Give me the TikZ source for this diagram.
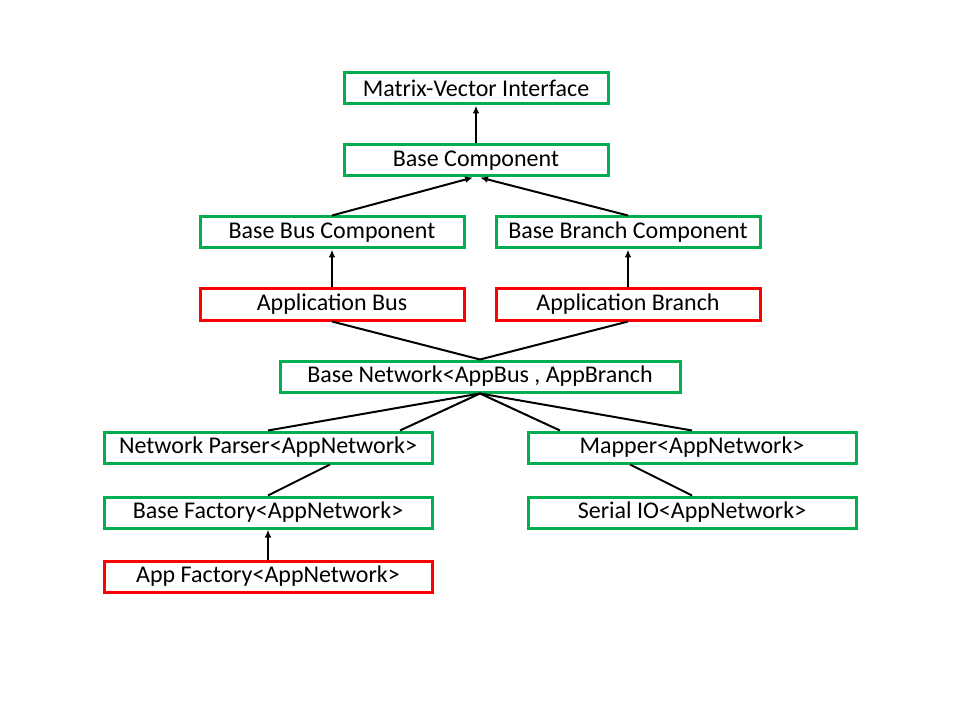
\documentclass[tikz,border=0pt]{standalone}
\usepackage{fontspec}
\setmainfont{Carlito}
\usetikzlibrary{arrows.meta,calc}

\definecolor{boxgreen}{HTML}{00B050}
\definecolor{boxred}{HTML}{FF0000}

\tikzset{
  cls/.style={draw=boxgreen, line width=2.25pt, minimum height=23.25pt,
              inner sep=0pt, font=\fontsize{18}{21}\selectfont},
  app/.style={cls, draw=boxred},
  link/.style={line width=1.5pt},
  inherit/.style={link, -{Latex[length=6pt,width=5pt]}}
}

\begin{document}
\begin{tikzpicture}[x=0.75pt,y=-0.75pt]
\useasboundingbox[fill=white] (0,0) rectangle (960,720);

\node[cls, minimum width=198pt] (mvi) at (476,88.5) {Matrix-Vector Interface};
\node[cls, minimum width=198pt] (bc) at (476,160.5) {Base Component};
\node[cls, minimum width=198pt] (bbus) at (332,232.5) {Base Bus Component};
\node[cls, minimum width=198pt] (bbr) at (628,232.5) {Base Branch Component};
\node[app, minimum width=198pt] (abus) at (332,304.5) {Application Bus};
\node[app, minimum width=198pt] (abr) at (628,304.5) {Application Branch};
\node[cls, minimum width=300pt] (bnet) at (480,376.5) {Base Network<AppBus , AppBranch};
\node[cls, minimum width=246pt] (np) at (268,447.5) {Network Parser<AppNetwork>};
\node[cls, minimum width=246pt] (map) at (692,447.5) {Mapper<AppNetwork>};
\node[cls, minimum width=246pt] (bf) at (268,512.5) {Base Factory<AppNetwork>};
\node[cls, minimum width=246pt] (sio) at (692,512.5) {Serial IO<AppNetwork>};
\node[app, minimum width=246pt] (af) at (268,576.5) {App Factory<AppNetwork>};

% inheritance arrows
\draw[inherit] (bc.north) -- (mvi.south);
\draw[inherit] (bbus.north) -- ($(bc.south)+(-3,0)$);
\draw[inherit] (bbr.north) -- ($(bc.south)+(4,0)$);
\draw[inherit] (abus.north) -- (bbus.south);
\draw[inherit] (abr.north) -- (bbr.south);
\draw[inherit] (af.north) -- (bf.south);

% plain links
\draw[link] (abus.south) -- (bnet.north);
\draw[link] (abr.south) -- (bnet.north);
\draw[link] (bnet.south) -- (np.north);
\draw[link] (bnet.south) -- ($(np.north)+(132,0)$);
\draw[link] (bnet.south) -- ($(map.north)+(-132,0)$);
\draw[link] (bnet.south) -- (map.north);
\draw[link] ($(np.south)+(62,0)$) -- (bf.north);
\draw[link] ($(map.south)+(-62,0)$) -- (sio.north);
\end{tikzpicture}
\end{document}
